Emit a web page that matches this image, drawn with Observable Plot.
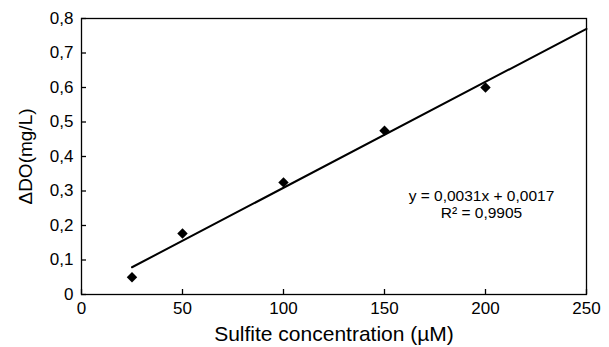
<!DOCTYPE html>
<html>
<head>
<meta charset="utf-8">
<script src="https://cdn.jsdelivr.net/npm/d3@7"></script>
<script src="https://cdn.jsdelivr.net/npm/@observablehq/plot@0.6"></script>
<style>
  html, body { margin: 0; padding: 0; background: #fff; }
  svg { display: block; }
</style>
</head>
<body>
<div id="chart"></div>
<script>
// Data
const sulfite = [25, 50, 100, 150, 200];
const deltaDO = [0.05, 0.177, 0.325, 0.475, 0.6];
const trendX = [25, 250];
const trendY = [0.079, 0.77];
const xTicks = [0, 50, 100, 150, 200, 250];
const yTicks = [0, 0.1, 0.2, 0.3, 0.4, 0.5, 0.6, 0.7, 0.8];
const yTickLabels = ["0", "0,1", "0,2", "0,3", "0,4", "0,5", "0,6", "0,7", "0,8"];
const equationLines = ["y = 0,0031x + 0,0017", "R\u00B2 = 0,9905"];
const equationAnchor = {x: 198, y: 0.262};
const xLabel = "Sulfite concentration (\u00B5M)";
const yLabel = "\u0394DO(mg/L)";

const points = sulfite.map((x, i) => ({x, y: deltaDO[i]}));
const trend = trendX.map((x, i) => ({x, y: trendY[i]}));
const yFmt = d => yTickLabels[yTicks.indexOf(d)];
const font = "Liberation Sans, Arial, sans-serif";

const chart = Plot.plot({
  width: 609,
  height: 347,
  marginLeft: 81,
  marginRight: 23,
  marginTop: 18,
  marginBottom: 53,
  style: {fontFamily: font, background: "#fff", color: "#000"},
  x: {domain: [0, 250]},
  y: {domain: [0, 0.8]},
  marks: [
    Plot.frame({stroke: "#000", strokeWidth: 1.3}),
    Plot.axisX({ticks: xTicks, tickSize: -5, tickFormat: () => "", label: null, strokeWidth: 1.3}),
    Plot.axisX({ticks: xTicks, tickSize: 0, tickPadding: 7, fontSize: 17, label: xLabel, labelAnchor: "center", labelOffset: 46, labelArrow: "none"}),
    Plot.axisY({ticks: yTicks, tickSize: -5, tickFormat: () => "", label: null, strokeWidth: 1.3}),
    Plot.axisY({ticks: yTicks, tickSize: 0, tickPadding: 8, fontSize: 17, tickFormat: yFmt, label: yLabel, labelAnchor: "center", labelOffset: 63, labelArrow: "none"}),
    Plot.line(trend, {x: "x", y: "y", stroke: "#000", strokeWidth: 2}),
    Plot.dot(points, {x: "x", y: "y", symbol: "diamond2", r: 4.7, fill: "#000", stroke: null}),
    Plot.text([equationLines.join("\n")], {x: () => equationAnchor.x, y: () => equationAnchor.y, text: d => d, fontSize: 15.5, lineHeight: 1.1, textAnchor: "middle", fill: "#000"})
  ]
});
document.getElementById("chart").appendChild(chart);
// axis label font sizes
chart.querySelectorAll("g[aria-label='x-axis label'] text").forEach(t => t.setAttribute("font-size", 21));
chart.querySelectorAll("g[aria-label='y-axis label'] text").forEach(t => t.setAttribute("font-size", 19));
</script>
</body>
</html>
